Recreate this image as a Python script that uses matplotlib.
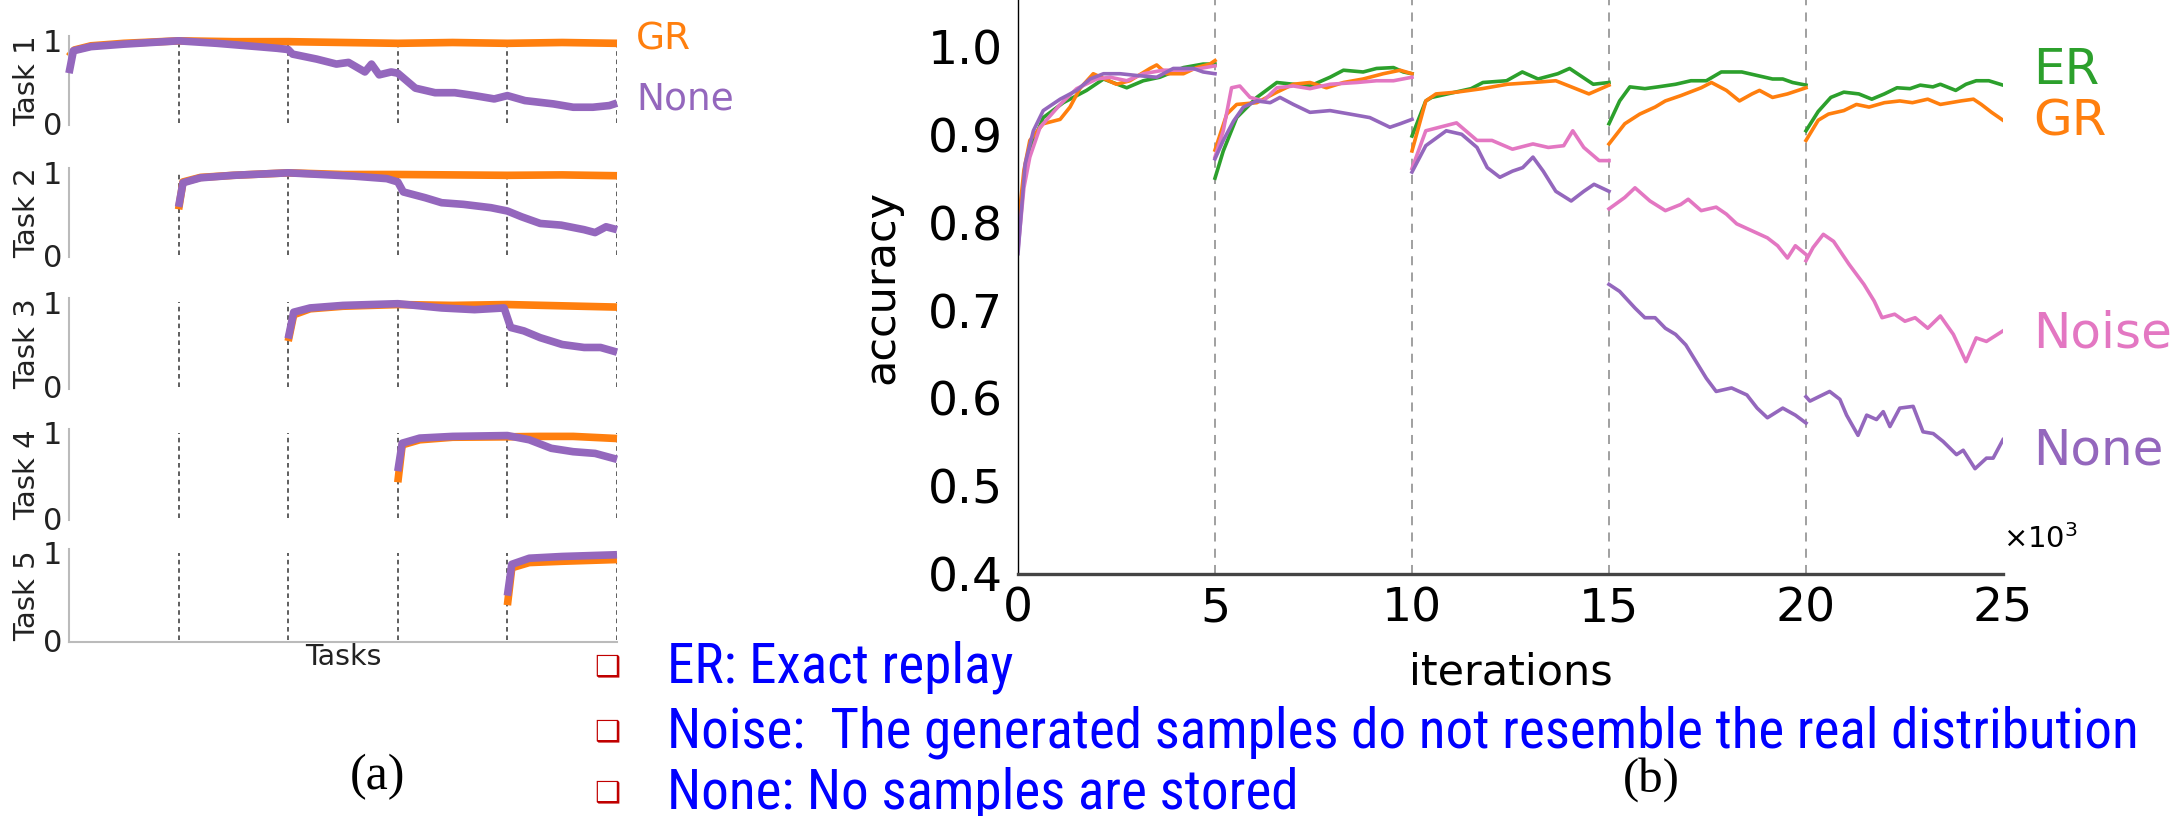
import numpy as np
import matplotlib
matplotlib.use('Agg')
import matplotlib.pyplot as plt
from matplotlib import font_manager

W, H = 2179, 816

# ---------------- panel (a): accuracy of each task over the 5 tasks ----------------
task_names = ['Task 1', 'Task 2', 'Task 3', 'Task 4', 'Task 5']

t1_gr_x = [0.0, 0.05, 0.2, 0.5, 1.0, 1.5, 2.0, 2.5, 3.0, 3.5, 4.0, 4.5, 5.0]
t1_gr_y = [0.80, 0.88, 0.93, 0.96, 0.99, 0.98, 0.98, 0.97, 0.96, 0.97, 0.96, 0.97, 0.96]
t1_none_x = [0.0, 0.04, 0.2, 0.5, 1.0, 1.35, 1.72, 1.9, 2.0, 2.04, 2.26, 2.44, 2.55, 2.7, 2.76,
             2.83, 2.94, 3.0, 3.16, 3.34, 3.52, 3.7, 3.88, 4.0, 4.16, 4.42, 4.6, 4.78, 4.93, 5.0]
t1_none_y = [0.60, 0.87, 0.92, 0.95, 0.99, 0.96, 0.92, 0.90, 0.885, 0.83, 0.77, 0.71, 0.73, 0.615, 0.71,
             0.58, 0.615, 0.60, 0.42, 0.365, 0.365, 0.33, 0.29, 0.33, 0.27, 0.23, 0.19, 0.19, 0.21, 0.24]

t2_gr_x = [1.0, 1.04, 1.2, 1.5, 2.0, 2.5, 3.0, 3.5, 4.0, 4.5, 5.0]
t2_gr_y = [0.55, 0.88, 0.935, 0.96, 0.99, 0.97, 0.97, 0.965, 0.96, 0.965, 0.955]
t2_none_x = [1.0, 1.04, 1.2, 1.5, 2.0, 2.3, 2.6, 2.9, 3.0, 3.05, 3.25, 3.4, 3.6, 3.85, 4.0,
             4.13, 4.3, 4.49, 4.7, 4.8, 4.9, 5.0]
t2_none_y = [0.58, 0.87, 0.93, 0.96, 0.99, 0.97, 0.95, 0.92, 0.88, 0.76, 0.69, 0.63, 0.61, 0.57, 0.53,
             0.46, 0.38, 0.36, 0.305, 0.27, 0.34, 0.305]

t3_gr_x = [2.0, 2.05, 2.2, 2.5, 3.0, 3.5, 4.0, 4.5, 5.0]
t3_gr_y = [0.54, 0.85, 0.92, 0.95, 0.97, 0.96, 0.97, 0.955, 0.94]
t3_none_x = [2.0, 2.05, 2.2, 2.5, 3.0, 3.4, 3.7, 3.97, 4.03, 4.15, 4.3, 4.5, 4.7, 4.85, 5.0]
t3_none_y = [0.57, 0.88, 0.93, 0.96, 0.98, 0.93, 0.91, 0.93, 0.70, 0.66, 0.58, 0.50, 0.465, 0.465, 0.41]

t4_gr_x = [3.0, 3.04, 3.2, 3.5, 4.0, 4.3, 4.6, 5.0]
t4_gr_y = [0.42, 0.86, 0.92, 0.95, 0.955, 0.96, 0.96, 0.935]
t4_none_x = [3.0, 3.04, 3.2, 3.5, 4.0, 4.2, 4.4, 4.6, 4.8, 5.0]
t4_none_y = [0.55, 0.88, 0.94, 0.96, 0.97, 0.92, 0.82, 0.78, 0.76, 0.69]

t5_gr_x = [4.0, 4.04, 4.2, 4.5, 5.0]
t5_gr_y = [0.40, 0.83, 0.89, 0.905, 0.925]
t5_none_x = [4.0, 4.04, 4.2, 4.5, 5.0]
t5_none_y = [0.51, 0.87, 0.94, 0.96, 0.98]

gr_a = [(t1_gr_x, t1_gr_y), (t2_gr_x, t2_gr_y), (t3_gr_x, t3_gr_y), (t4_gr_x, t4_gr_y), (t5_gr_x, t5_gr_y)]
none_a = [(t1_none_x, t1_none_y), (t2_none_x, t2_none_y), (t3_none_x, t3_none_y),
          (t4_none_x, t4_none_y), (t5_none_x, t5_none_y)]

# ---------------- panel (b): accuracy vs iterations (x1000), one segment per task ----------------
er_x = [[0.0, 0.15, 0.3, 0.64, 1.15, 1.74, 2.17, 2.76, 3.18, 3.6, 4.2, 4.7, 5.0],
        [5.0, 5.21, 5.55, 6.06, 6.57, 6.99, 7.41, 7.92, 8.26, 8.76, 9.1, 9.53, 9.78, 10.0],
        [10.0, 10.35, 10.5, 11.0, 11.5, 11.8, 12.4, 12.8, 13.2, 13.7, 14.0, 14.4, 14.6, 15.0],
        [15.0, 15.27, 15.53, 15.91, 16.24, 16.69, 17.08, 17.47, 17.85, 18.37, 18.76, 19.15, 19.41, 19.66, 20.0],
        [20.0, 20.31, 20.63, 20.96, 21.34, 21.67, 21.99, 22.31, 22.64, 22.9, 23.22, 23.41, 23.8, 24.06, 24.32, 24.64, 25.0]]
er_y = [[0.78, 0.85, 0.882, 0.920, 0.937, 0.951, 0.964, 0.954, 0.962, 0.966, 0.977, 0.981, 0.981],
        [0.851, 0.882, 0.920, 0.943, 0.960, 0.958, 0.956, 0.966, 0.974, 0.972, 0.976, 0.977, 0.972, 0.970],
        [0.899, 0.939, 0.943, 0.948, 0.953, 0.960, 0.962, 0.972, 0.964, 0.970, 0.976, 0.964, 0.958, 0.960],
        [0.913, 0.939, 0.955, 0.953, 0.955, 0.958, 0.962, 0.962, 0.972, 0.972, 0.968, 0.964, 0.964, 0.960, 0.957],
        [0.905, 0.927, 0.943, 0.949, 0.947, 0.941, 0.947, 0.954, 0.953, 0.957, 0.955, 0.958, 0.951, 0.958, 0.962, 0.962, 0.957]]

gr_x = [[0.0, 0.15, 0.3, 0.64, 1.07, 1.32, 1.57, 1.91, 2.5, 2.84, 3.35, 3.52, 3.77, 4.2, 4.53, 4.87, 5.0],
        [5.0, 5.3, 5.55, 6.06, 6.57, 6.99, 7.41, 7.83, 8.26, 8.76, 9.27, 9.7, 10.0],
        [10.0, 10.35, 10.61, 11.13, 11.78, 12.42, 13.07, 13.65, 14.1, 14.49, 15.0],
        [15.0, 15.4, 15.78, 16.17, 16.43, 16.82, 17.34, 17.6, 17.98, 18.31, 18.63, 18.82, 19.15, 19.53, 20.0],
        [20.0, 20.31, 20.57, 20.96, 21.28, 21.6, 21.99, 22.38, 22.7, 23.09, 23.41, 23.93, 24.25, 24.45, 24.71, 25.0]]
gr_y = [[0.795, 0.86, 0.894, 0.913, 0.918, 0.932, 0.953, 0.970, 0.958, 0.962, 0.976, 0.980, 0.970, 0.970, 0.977, 0.981, 0.985],
        [0.883, 0.924, 0.935, 0.937, 0.949, 0.958, 0.960, 0.954, 0.960, 0.964, 0.970, 0.974, 0.970],
        [0.882, 0.939, 0.947, 0.949, 0.953, 0.958, 0.960, 0.962, 0.954, 0.947, 0.957],
        [0.890, 0.913, 0.924, 0.932, 0.939, 0.945, 0.954, 0.960, 0.951, 0.939, 0.947, 0.951, 0.943, 0.947, 0.954],
        [0.894, 0.917, 0.924, 0.928, 0.935, 0.932, 0.937, 0.939, 0.937, 0.941, 0.935, 0.939, 0.941, 0.935, 0.926, 0.917]]

noise_x = [[0.0, 0.15, 0.3, 0.56, 1.07, 1.49, 2.0, 2.34, 2.76, 3.18, 3.69, 4.2, 4.62, 5.0],
           [5.0, 5.21, 5.42, 5.63, 5.89, 6.23, 6.57, 6.99, 7.41, 7.92, 8.6, 9.1, 9.53, 10.0],
           [10.0, 10.35, 11.13, 11.65, 12.03, 12.55, 13.07, 13.46, 13.85, 14.08, 14.36, 14.75, 15.0],
           [15.0, 15.4, 15.66, 16.04, 16.43, 16.82, 17.01, 17.34, 17.72, 17.98, 18.24, 18.63, 19.02, 19.28, 19.53, 19.73, 20.0],
           [20.0, 20.18, 20.44, 20.7, 21.09, 21.47, 21.73, 21.93, 22.25, 22.51, 22.77, 23.09, 23.41, 23.74, 24.06, 24.32, 24.58, 25.0]]
noise_y = [[0.77, 0.84, 0.875, 0.909, 0.935, 0.953, 0.964, 0.966, 0.962, 0.970, 0.974, 0.974, 0.976, 0.979],
           [0.875, 0.905, 0.954, 0.956, 0.943, 0.939, 0.954, 0.956, 0.953, 0.958, 0.960, 0.962, 0.962, 0.966],
           [0.862, 0.905, 0.914, 0.894, 0.894, 0.884, 0.890, 0.886, 0.888, 0.905, 0.886, 0.871, 0.871],
           [0.816, 0.829, 0.840, 0.825, 0.814, 0.821, 0.827, 0.814, 0.818, 0.810, 0.799, 0.791, 0.783, 0.774, 0.760, 0.774, 0.764],
           [0.757, 0.772, 0.787, 0.779, 0.753, 0.730, 0.711, 0.692, 0.696, 0.688, 0.692, 0.680, 0.694, 0.673, 0.642, 0.669, 0.665, 0.677]]

none_x = [[0.0, 0.18, 0.39, 0.64, 1.07, 1.49, 1.83, 2.17, 2.59, 3.01, 3.52, 3.94, 4.45, 4.7, 5.0],
          [5.0, 5.21, 5.47, 5.72, 6.06, 6.4, 6.65, 6.99, 7.41, 7.92, 8.43, 8.93, 9.44, 9.7, 10.0],
          [10.0, 10.35, 10.87, 11.26, 11.65, 11.91, 12.23, 12.55, 12.81, 13.07, 13.33, 13.65, 14.04, 14.36, 14.62, 14.81, 15.0],
          [15.0, 15.27, 15.66, 15.91, 16.17, 16.43, 16.69, 16.95, 17.21, 17.47, 17.72, 18.11, 18.5, 18.76, 19.02, 19.41, 19.73, 20.0],
          [20.0, 20.1, 20.6, 20.86, 21.03, 21.32, 21.54, 21.79, 21.96, 22.13, 22.38, 22.72, 22.97, 23.23, 23.48, 23.82, 23.99, 24.29, 24.58, 24.75, 25.0]]
none_y = [[0.765, 0.867, 0.905, 0.928, 0.941, 0.951, 0.964, 0.970, 0.970, 0.968, 0.966, 0.976, 0.976, 0.972, 0.970],
          [0.873, 0.894, 0.916, 0.932, 0.939, 0.937, 0.943, 0.935, 0.926, 0.928, 0.924, 0.920, 0.909, 0.913, 0.918],
          [0.858, 0.888, 0.905, 0.901, 0.886, 0.863, 0.852, 0.859, 0.863, 0.875, 0.859, 0.836, 0.825, 0.836, 0.844, 0.840, 0.836],
          [0.730, 0.722, 0.703, 0.692, 0.692, 0.680, 0.673, 0.661, 0.642, 0.623, 0.608, 0.612, 0.604, 0.589, 0.578, 0.589, 0.581, 0.572],
          [0.602, 0.597, 0.608, 0.599, 0.581, 0.558, 0.581, 0.576, 0.585, 0.568, 0.589, 0.591, 0.562, 0.560, 0.551, 0.536, 0.541, 0.520, 0.532, 0.532, 0.553]]

task_bounds = [5, 10, 15, 20]
b_xticks = [0, 5, 10, 15, 20, 25]
b_yticks = [0.4, 0.5, 0.6, 0.7, 0.8, 0.9, 1.0]

notes = ['ER: Exact replay',
         'Noise:  The generated samples do not resemble the real distribution',
         'None: No samples are stored']

C_ER, C_GR, C_NOISE, C_NONE = '#2ca02c', '#ff7f0e', '#e377c2', '#9467bd'

available = {f.name for f in font_manager.fontManager.ttflist}
note_font = next((f for f in ['Liberation Sans Narrow', 'Roboto Condensed', 'Open Sans Condensed']
                  if f in available), 'Liberation Sans')

fig = plt.figure(figsize=(W / 100, H / 100), dpi=100)


def rect(left, right, top, bottom):
    # pixel box -> figure fraction
    return [left / W, 1 - bottom / H, (right - left) / W, (bottom - top) / H]


# ---- panel (a) ----
a_rows = [(40, 123), (172, 255), (302, 387), (433, 518), (553, 640)]
lo, hi = -0.02, 1.05
for i, (y1, y0) in enumerate(a_rows):
    s = y0 - y1
    ax = fig.add_axes(rect(69, 617, y1 - (hi - 1) * s, y0 - lo * s))
    ax.set_xlim(0, 5)
    ax.set_ylim(lo, hi)
    for xb in range(1, 6):
        ax.plot([xb, xb], [0, 1], color='#333333', lw=1.1, ls=(0, (3, 2.5)), zorder=1)
    ax.plot(*gr_a[i], color=C_GR, lw=5.5, solid_capstyle='butt', clip_on=False, zorder=2)
    ax.plot(*none_a[i], color=C_NONE, lw=5.5, solid_capstyle='butt', clip_on=False, zorder=3)
    for sp in ['top', 'right', 'bottom']:
        ax.spines[sp].set_visible(False)
    ax.spines['left'].set_color('#bbbbbb')
    ax.spines['left'].set_linewidth(1.5)
    ax.set_xticks([])
    ax.set_yticks([0, 1])
    ax.set_yticklabels(['0', '1'])
    ax.tick_params(axis='y', length=0, pad=5, labelsize=22, colors='#222222')
    ax.set_ylabel(task_names[i], fontsize=21, color='#222222')
    ax.yaxis.set_label_coords(-0.05, 0.5)
    if i == 4:
        ax.spines['bottom'].set_visible(True)
        ax.spines['bottom'].set_color('#bbbbbb')
        ax.spines['bottom'].set_linewidth(1.5)
        ax.spines['bottom'].set_bounds(0, 5)
        ax.set_xlabel('Tasks', fontsize=20.5, color='#222222')
        ax.xaxis.set_label_coords(0.5, -0.01)

fig.text(636 / W, 1 - 40 / H, 'GR', color=C_GR, fontsize=27, ha='left', va='center')
fig.text(636 / W, 1 - 100 / H, 'None', color=C_NONE, fontsize=27, ha='left', va='center')

# ---- panel (b) ----
axb = fig.add_axes(rect(1018, 2003, 0, 574))
for xb in task_bounds:
    axb.axvline(xb, color='#999999', lw=1.3, ls=(0, (5, 4)), zorder=1)
for xs, ys, c in [(er_x, er_y, C_ER), (gr_x, gr_y, C_GR), (noise_x, noise_y, C_NOISE), (none_x, none_y, C_NONE)]:
    for sx, sy in zip(xs, ys):
        axb.plot(sx, sy, color=c, lw=2.6, zorder=2)
axb.set_xlim(0, 25)
axb.set_ylim(0.4, 1.054)
axb.set_xticks(b_xticks)
axb.set_yticks(b_yticks)
axb.set_yticklabels([f'{v:.1f}' for v in b_yticks])
axb.tick_params(length=0, labelsize=34)
axb.tick_params(axis='y', pad=11)
axb.tick_params(axis='x', pad=9)
for sp in ['top', 'right']:
    axb.spines[sp].set_visible(False)
axb.spines['left'].set_linewidth(1.0)
axb.spines['bottom'].set_linewidth(2.4)
axb.spines['bottom'].set_color('#444444')
axb.set_ylabel('accuracy', fontsize=31)
axb.yaxis.set_label_coords(-0.117, 0.5)
axb.set_xlabel('iterations', fontsize=31)
axb.xaxis.set_label_coords(0.5, -0.135)
axb.text(1.0, 0.035, r'$\times10^3$', transform=axb.transAxes, fontsize=21,
         ha='left', va='bottom')

lab_x = 2033 / W
fig.text(lab_x, 1 - 70 / H, 'ER', color=C_ER, fontsize=36, ha='left', va='center')
fig.text(lab_x, 1 - 122 / H, 'GR', color=C_GR, fontsize=36, ha='left', va='center')
fig.text(lab_x, 1 - 333 / H, 'Noise', color=C_NOISE, fontsize=36, ha='left', va='center')
fig.text(lab_x, 1 - 450 / H, 'None', color=C_NONE, fontsize=36, ha='left', va='center')

# ---- notes with bullets ----
renderer = fig.canvas.get_renderer()
probe = fig.text(0, 0, notes[1], fontsize=30, family=note_font)
w = probe.get_window_extent(renderer=renderer).width
probe.remove()
note_size = 30 * 1473 / w
for txt, yc in zip(notes, [667, 732, 793]):
    fig.text(607 / W, 1 - yc / H, '\u2751', color='#c00000', fontsize=21, fontweight='bold',
             ha='center', va='center', family='DejaVu Sans')
    fig.text(667 / W, 1 - yc / H, txt, color='#0000ff', fontsize=note_size,
             ha='left', va='center', family=note_font)

fig.text(377 / W, 1 - 777 / H, '(a)', fontsize=36, family='Liberation Serif', ha='center', va='center')
fig.text(1651 / W, 1 - 780 / H, '(b)', fontsize=35, family='Liberation Serif', ha='center', va='center')

fig.savefig('out.png', dpi=100)
